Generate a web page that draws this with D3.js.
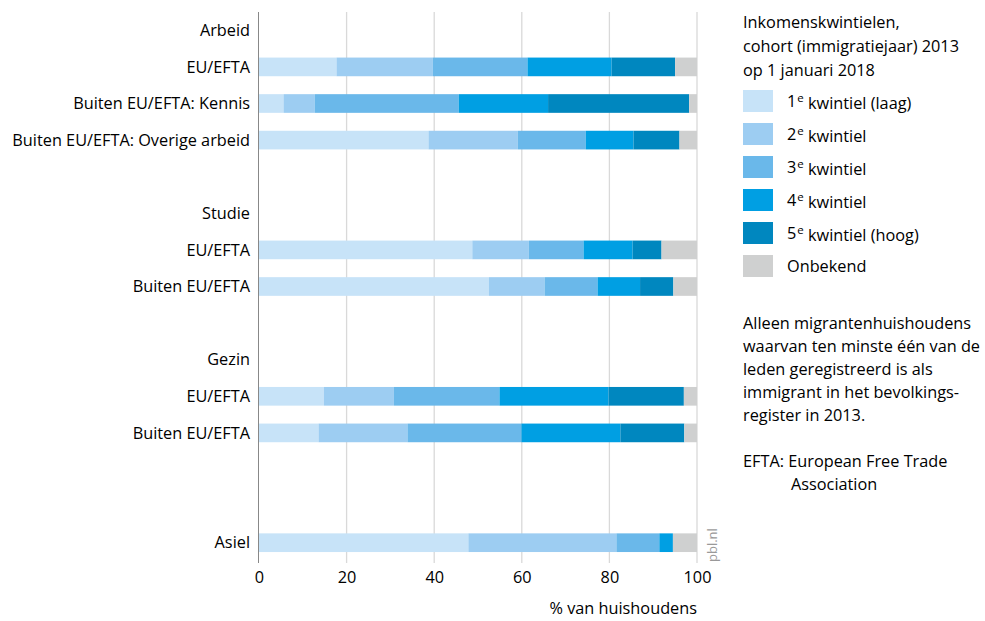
<!DOCTYPE html>
<html><head><meta charset="utf-8">
<script src="https://cdn.jsdelivr.net/npm/d3@7"></script>
<style>
body{margin:0;background:#fff;}
text{font-family:"Open Sans","Noto Sans",sans-serif;fill:#000;}
</style></head>
<body>
<svg id="c" width="985" height="621"></svg>
<script>
// Rows (group headers, bar rows, gaps)
const rowLabels = ["Arbeid","EU/EFTA","Buiten EU/EFTA: Kennis","Buiten EU/EFTA: Overige arbeid","",
  "Studie","EU/EFTA","Buiten EU/EFTA","","Gezin","EU/EFTA","Buiten EU/EFTA","","","Asiel"];
const rowKeys = ["h_arbeid","arb_eu","arb_kennis","arb_overig","gap1","h_studie","stu_eu","stu_buiten","gap2",
  "h_gezin","gez_eu","gez_buiten","gap3","gap4","asiel"];
const barKeys = ["arb_eu","arb_kennis","arb_overig","stu_eu","stu_buiten","gez_eu","gez_buiten","asiel"];
const seriesNames = ["1e kwintiel (laag)","2e kwintiel","3e kwintiel","4e kwintiel","5e kwintiel (hoog)","Onbekend"];
const q1 = [17.7, 5.6, 38.7, 48.7, 52.5, 14.8, 13.6, 47.8];
const q2 = [22.0, 7.1, 20.4, 12.9, 12.7, 16.0, 20.3, 33.8];
const q3 = [21.6, 32.9, 15.5, 12.5, 12.1, 24.1, 26.0, 9.8];
const q4 = [19.2, 20.4, 10.9, 11.2, 9.7, 24.9, 22.6, 3.1];
const q5 = [14.5, 32.2, 10.5, 6.6, 7.6, 17.2, 14.6, 0.0];
const onbekend = [5.0, 1.8, 4.0, 8.1, 5.4, 3.0, 2.9, 5.5];
const xTicks = [0,20,40,60,80,100];
const colors = ["#c7e3f8","#9dcdf2","#6ab8ea","#009fe3","#0087bf","#cfd0d0"];
const FS = 16.3;

const svg = d3.select("#c");
const x = d3.scaleLinear().domain([0,100]).range([259,697]);
const y = d3.scaleBand().domain(rowKeys).range([12,561]).paddingInner(0.49).paddingOuter(0.245);

// gridlines
svg.append("g").selectAll("line").data(xTicks.slice(1)).join("line")
  .attr("x1",d=>x(d)).attr("x2",d=>x(d)).attr("y1",12).attr("y2",563)
  .attr("stroke","#d9d9d9").attr("stroke-width",1.3);

// data table
const table = barKeys.map((k,i)=>({key:k, q1:q1[i], q2:q2[i], q3:q3[i], q4:q4[i], q5:q5[i], onb:onbekend[i]}));
const stack = d3.stack().keys(["q1","q2","q3","q4","q5","onb"])(table);
svg.append("g").selectAll("g").data(stack).join("g").attr("fill",(d,i)=>colors[i])
  .selectAll("rect").data(d=>d).join("rect")
  .attr("x",d=>x(d[0])).attr("width",d=>Math.max(0,x(d[1])-x(d[0])))
  .attr("y",d=>y(d.data.key)).attr("height",y.bandwidth());

// y axis line
svg.append("line").attr("x1",258.5).attr("x2",258.5).attr("y1",12).attr("y2",563)
  .attr("stroke","#888").attr("stroke-width",1);

// row labels
svg.append("g").selectAll("text").data(rowKeys.filter((k,i)=>rowLabels[i]!=="")).join("text")
  .attr("x",250).attr("y",d=>y(d)+y.bandwidth()/2).attr("dy","0.35em")
  .attr("text-anchor","end").attr("font-size",FS)
  .text(d=>rowLabels[rowKeys.indexOf(d)]);

// x axis tick labels
const ax = svg.append("g").attr("transform","translate(0,563)")
  .call(d3.axisBottom(x).tickValues(xTicks).tickSize(0).tickPadding(8).tickFormat(d3.format("d")));
ax.select(".domain").remove();
ax.selectAll("text").attr("font-size",FS).attr("fill","#000").style("font-family","'Open Sans',sans-serif");

svg.append("text").attr("x",697).attr("y",614).attr("text-anchor","end").attr("font-size",FS)
  .text("% van huishoudens");

svg.append("text").attr("transform","translate(717,562) rotate(-90)").attr("font-size",13)
  .style("fill","#999").text("pbl.nl");

// legend
const lg = svg.append("g");
["Inkomenskwintielen,","cohort (immigratiejaar) 2013","op 1 januari 2018"].forEach((t,i)=>{
  lg.append("text").attr("x",743).attr("y",28+i*24).attr("font-size",FS).text(t);
});
seriesNames.forEach((n,i)=>{
  const cy = 101+i*33;
  lg.append("rect").attr("x",743).attr("y",cy-11).attr("width",30).attr("height",22).attr("fill",colors[i]);
  const t = lg.append("text").attr("x",787).attr("y",cy).attr("dy","0.35em").attr("font-size",FS);
  if(i<5){
    t.append("tspan").text(n[0]);
    t.append("tspan").attr("dx","1").attr("dy","-0.4em").attr("font-size",11.5).text("e");
    t.append("tspan").attr("dy","0.4em").text(" "+n.slice(3));
  } else t.text(n);
});

const notes = ["Alleen migrantenhuishoudens","waarvan ten minste één van de","leden geregistreerd is als",
  "immigrant in het bevolkings-","register in 2013."];
notes.forEach((t,i)=>svg.append("text").attr("x",743).attr("y",329+i*23).attr("font-size",FS).text(t));
svg.append("text").attr("x",743).attr("y",467).attr("font-size",FS).text("EFTA: European Free Trade");
svg.append("text").attr("x",791).attr("y",490).attr("font-size",FS).text("Association");
</script>
</body></html>
